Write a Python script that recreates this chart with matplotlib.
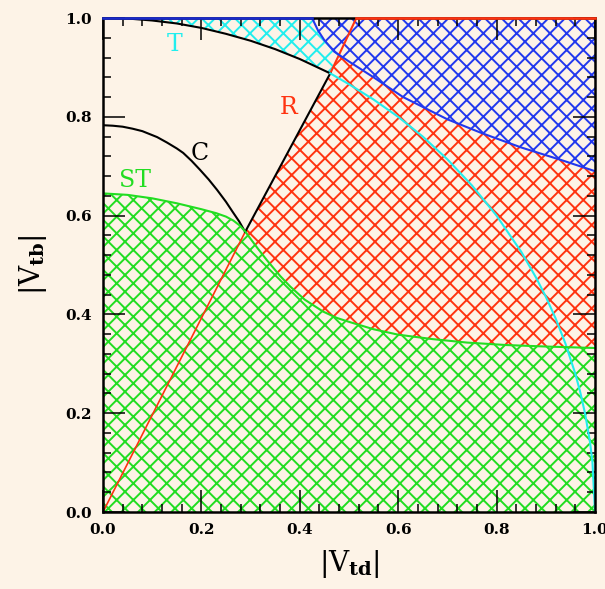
import numpy as np
import matplotlib
matplotlib.use('Agg')
import matplotlib.pyplot as plt
from matplotlib.ticker import MultipleLocator

plt.rcParams['font.family'] = ['DejaVu Serif']
plt.rcParams['mathtext.fontset'] = 'dejavuserif'
plt.rcParams['hatch.linewidth'] = 1.4

fundo = '#fdf3e7'
verde = '#22dd22'
vermelho = '#ff3311'
azul = '#2238ee'
ciano = '#22eeee'

# arco externo (preto ate o vertice, depois ciano)
arco_x = [0.0, 0.05, 0.10, 0.15, 0.20, 0.25, 0.30, 0.35, 0.40, 0.43, 0.462]
arco_y = [1.0, 0.999, 0.995, 0.989, 0.980, 0.968, 0.954, 0.937, 0.917, 0.903, 0.888]
t_x = [0.462, 0.50, 0.55, 0.60, 0.65, 0.70, 0.75, 0.80, 0.85, 0.88, 0.90, 0.92,
       0.94, 0.96, 0.97, 0.98, 0.99, 0.995, 1.0]
t_y = [0.888, 0.866, 0.835, 0.800, 0.760, 0.714, 0.661, 0.600, 0.527, 0.475, 0.436, 0.392,
       0.341, 0.280, 0.243, 0.199, 0.141, 0.100, 0.0]

# curva C
c_x = [0.0, 0.02, 0.04, 0.06, 0.08, 0.095, 0.11, 0.13, 0.15, 0.163, 0.18, 0.197,
       0.215, 0.232, 0.25, 0.264, 0.277, 0.289]
c_y = [0.783, 0.782, 0.780, 0.776, 0.771, 0.765, 0.759, 0.748, 0.736, 0.727, 0.711, 0.693,
       0.673, 0.652, 0.628, 0.607, 0.588, 0.567]

# fronteira ST
st_x = [0.0, 0.05, 0.10, 0.15, 0.20, 0.23, 0.25, 0.265, 0.278, 0.289, 0.30, 0.315, 0.333,
        0.36, 0.38, 0.41, 0.447, 0.475, 0.50, 0.55, 0.60, 0.67, 0.74, 0.82, 0.90, 1.0]
st_y = [0.645, 0.642, 0.635, 0.625, 0.613, 0.605, 0.598, 0.590, 0.580, 0.568, 0.553, 0.533, 0.510,
        0.478, 0.457, 0.430, 0.406, 0.393, 0.385, 0.370, 0.359, 0.350, 0.343, 0.338, 0.335, 0.332]

# reta R
r_x = [0.0, 0.289, 0.462, 0.515]
r_y = [0.0, 0.567, 0.888, 1.0]

# fronteira da regiao azul
b_x = [0.425, 0.437, 0.45, 0.47, 0.50, 0.55, 0.61, 0.70, 0.77, 0.85, 0.93, 1.0]
b_y = [1.0, 0.975, 0.955, 0.932, 0.912, 0.880, 0.840, 0.795, 0.767, 0.738, 0.713, 0.690]

rotulos = [('T', 0.146, 0.946, ciano), ('C', 0.197, 0.725, 'black'),
           ('R', 0.378, 0.818, vermelho), ('ST', 0.065, 0.672, verde)]


def preenche(ax, xs, ys, cor):
    ax.fill(xs, ys, facecolor=fundo, edgecolor=cor, hatch='xx', linewidth=0)


fig = plt.figure(figsize=(6.05, 5.89), dpi=100, facecolor=fundo)
ax = fig.add_axes([0.1702, 0.1307, 0.8132, 0.8387], facecolor=fundo)

# regioes hachuradas
preenche(ax, arco_x + t_x[1:] + [1.0, 0.0], arco_y + t_y[1:] + [1.0, 1.0], ciano)
preenche(ax, r_x + [1.0, 1.0], r_y + [1.0, 0.0], vermelho)
preenche(ax, b_x + [1.0], b_y + [1.0], azul)
preenche(ax, st_x + [1.0, 0.0], st_y + [0.0, 0.0], verde)

# linhas de fronteira
ax.plot(r_x[:2], r_y[:2], color=vermelho, lw=1.2)
ax.plot(r_x[2:], r_y[2:], color=vermelho, lw=1.5)
ax.plot(r_x[1:3], r_y[1:3], color='black', lw=1.5)
ax.plot(arco_x, arco_y, color='black', lw=1.5)
ax.plot(c_x, c_y, color='black', lw=1.5)
ax.plot(t_x, t_y, color=ciano, lw=1.5)
ax.plot(st_x, st_y, color=verde, lw=1.5)
ax.plot(b_x, b_y, color=azul, lw=1.5)

for texto, x, y, cor in rotulos:
    ax.text(x, y, texto, color=cor, fontsize=17, ha='center', va='center')

ax.set_xlim(0, 1)
ax.set_ylim(0, 1)
ax.xaxis.set_major_locator(MultipleLocator(0.2))
ax.yaxis.set_major_locator(MultipleLocator(0.2))
ax.xaxis.set_minor_locator(MultipleLocator(0.04))
ax.yaxis.set_minor_locator(MultipleLocator(0.04))
ax.tick_params(which='both', direction='in', top=True, right=True, width=1.1)
ax.tick_params(which='major', length=15.5, labelsize=11, pad=8)
ax.tick_params(which='minor', length=5.5)
ax.xaxis.set_major_formatter(plt.FormatStrFormatter('%.1f'))
ax.yaxis.set_major_formatter(plt.FormatStrFormatter('%.1f'))
for lab in ax.get_xticklabels() + ax.get_yticklabels():
    lab.set_fontweight('bold')
for s in ax.spines.values():
    s.set_linewidth(1.8)

# borda superior colorida pelas regioes
ax.plot([0.0, b_x[0]], [1.0, 1.0], color='#1a2acc', lw=1.9, clip_on=False, zorder=5)
ax.plot([r_x[-1], 1.0], [1.0, 1.0], color=vermelho, lw=1.9, clip_on=False, zorder=5)

ax.set_xlabel(r'$|\mathrm{V}_{\mathbf{td}}|$', fontsize=20, labelpad=8)
ax.set_ylabel(r'$|\mathrm{V}_{\mathbf{tb}}|$', fontsize=20, labelpad=12)

plt.savefig('out.png', dpi=100, facecolor=fundo)
